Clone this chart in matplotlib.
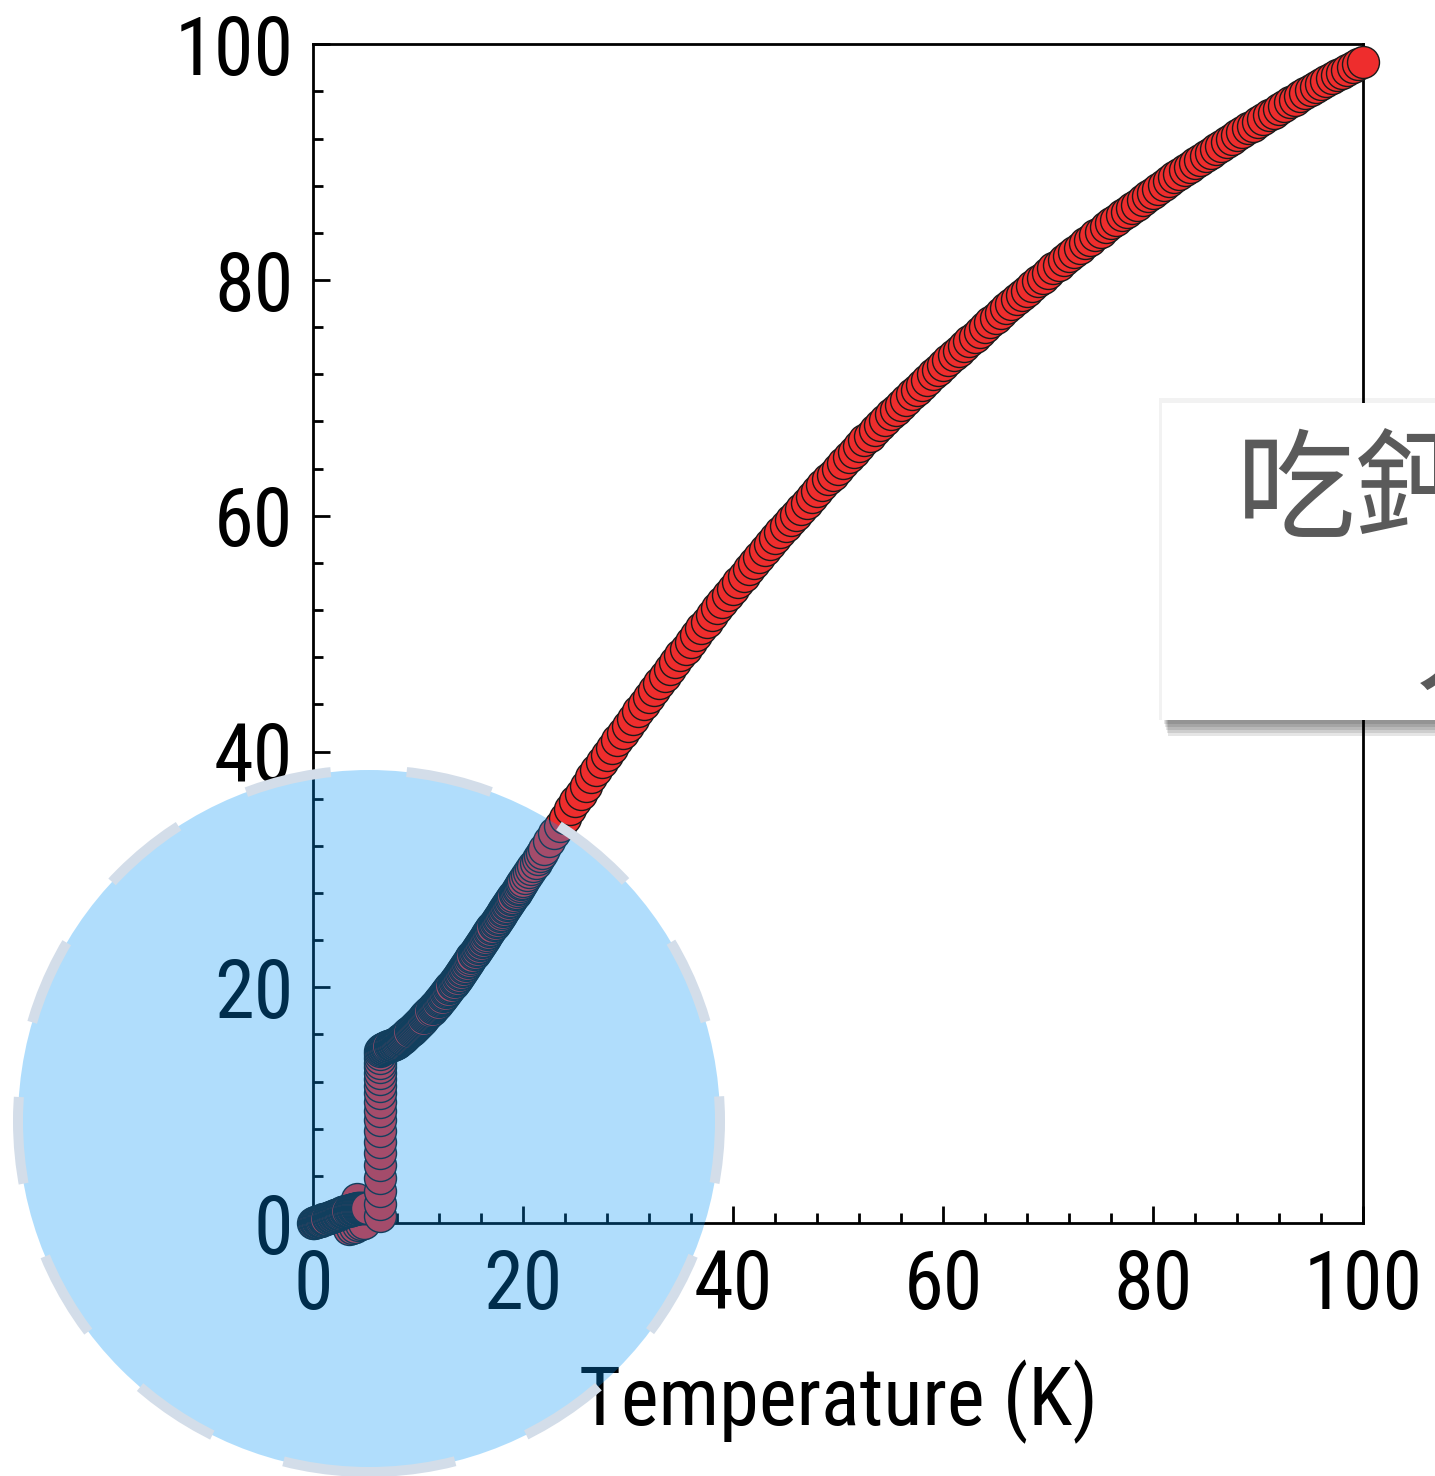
import os
import matplotlib.pyplot as plt
import matplotlib.font_manager as fm
from matplotlib.patches import Ellipse, Rectangle
from matplotlib.ticker import MultipleLocator

# low temperature plateau (superconducting state)
temp_low = [0.0, 0.1, 0.2, 0.3, 0.4, 0.5, 0.6, 0.7, 0.8, 0.9,
            1.0, 1.1, 1.2, 1.3, 1.4, 1.5, 1.6, 1.7, 1.8, 1.9,
            2.0, 2.1, 2.2, 2.3, 2.4, 2.5, 2.6, 2.7, 2.8, 2.9,
            3.0, 3.1, 3.2, 3.3, 3.4, 3.5, 3.6, 3.7, 3.8, 3.9,
            4.0, 4.1, 4.2, 4.3, 4.4, 4.5, 4.6, 4.7, 4.8, 4.9,
            5.0, 5.1, 5.2]
res_low = [0.00, 0.03, 0.05, 0.08, 0.10, 0.13, 0.15, 0.18, 0.20, 0.25,
           0.30, 0.32, 0.35, 0.38, 0.40, 0.45, 0.50, 0.52, 0.55, 0.58,
           0.60, 0.65, 0.70, 0.72, 0.75, 0.78, 0.80, 0.85, 0.90, 0.92,
           0.95, 0.98, 1.00, 1.02, 1.05, 1.08, 1.10, 1.12, 1.15, 1.18,
           1.20, 1.22, 1.25, 1.25, 1.28, 1.30, 1.30, 1.30, 1.30, 1.30,
           1.30, 1.30, 1.30]

temp_dip = [4.2, 3.4, 3.7, 4.0, 4.3, 4.6, 4.9]
res_dip = [2.0, -0.5, -0.4, -0.3, -0.2, -0.1, 0.0]

# transition
temp_jump = [6.4, 6.4, 6.4, 6.4, 6.4, 6.4, 6.4, 6.4, 6.4, 6.4,
             6.4, 6.4, 6.4, 6.4, 6.4, 6.4, 6.4, 6.4, 6.4, 6.4]
res_jump = [0.6, 1.6, 2.7, 3.8, 4.9, 5.9, 6.9, 7.8, 8.7, 9.5,
            10.3, 11.0, 11.6, 12.2, 12.7, 13.2, 13.6, 14.0, 14.3, 14.6]

# normal state, dense part
temp_mid = [6.5, 6.6, 6.7, 6.8, 6.9,
            7.0, 7.1, 7.2, 7.3, 7.4, 7.5, 7.6, 7.7, 7.8, 7.9,
            8.0, 8.1, 8.2, 8.3, 8.4, 8.5, 8.6, 8.7, 8.8, 8.9,
            9.0, 9.1, 9.2, 9.3, 9.4, 9.5, 9.6, 9.7, 9.8, 9.9,
            10.0, 10.1, 10.2, 10.3, 10.4, 10.5, 10.6, 10.7, 10.8, 10.9,
            11.0, 11.1, 11.2, 11.3, 11.4, 11.5, 11.6, 11.7, 11.8, 11.9,
            12.0, 12.1, 12.2, 12.3, 12.4, 12.5, 12.6, 12.7, 12.8, 12.9,
            13.0, 13.1, 13.2, 13.3, 13.4, 13.5, 13.6, 13.7, 13.8, 13.9,
            14.0, 14.1, 14.2, 14.3, 14.4, 14.5, 14.6, 14.7, 14.8, 14.9,
            15.0, 15.1, 15.2, 15.3, 15.4, 15.5, 15.6, 15.7, 15.8, 15.9,
            16.0, 16.1, 16.2, 16.3, 16.4, 16.5, 16.6, 16.7, 16.8, 16.9,
            17.0, 17.1, 17.2, 17.3, 17.4, 17.5, 17.6, 17.7, 17.8, 17.9,
            18.0, 18.1, 18.2, 18.3, 18.4, 18.5, 18.6, 18.7, 18.8, 18.9,
            19.0, 19.1, 19.2, 19.3, 19.4, 19.5, 19.6, 19.7, 19.8, 19.9,
            20.0, 20.2, 20.4, 20.6, 20.8, 21.0, 21.2, 21.4, 21.6, 21.8]
res_mid = [14.70, 14.74, 14.78, 14.82, 14.86,
           14.90, 14.94, 14.98, 15.02, 15.06, 15.10, 15.14, 15.18, 15.22, 15.26,
           15.30, 15.37, 15.44, 15.51, 15.58, 15.65, 15.72, 15.79, 15.86, 15.93,
           16.00, 16.09, 16.18, 16.27, 16.36, 16.45, 16.54, 16.63, 16.72, 16.81,
           16.90, 16.99, 17.08, 17.17, 17.26, 17.35, 17.44, 17.53, 17.62, 17.71,
           17.80, 17.90, 18.00, 18.10, 18.20, 18.30, 18.40, 18.50, 18.60, 18.70,
           18.80, 18.91, 19.02, 19.13, 19.24, 19.35, 19.46, 19.57, 19.68, 19.79,
           19.90, 20.02, 20.14, 20.26, 20.38, 20.50, 20.62, 20.74, 20.86, 20.98,
           21.10, 21.23, 21.36, 21.49, 21.62, 21.75, 21.88, 22.01, 22.14, 22.27,
           22.40, 22.53, 22.66, 22.79, 22.92, 23.05, 23.18, 23.31, 23.44, 23.57,
           23.70, 23.83, 23.96, 24.09, 24.22, 24.35, 24.48, 24.61, 24.74, 24.87,
           25.00, 25.13, 25.26, 25.39, 25.52, 25.65, 25.78, 25.91, 26.04, 26.17,
           26.30, 26.43, 26.56, 26.69, 26.82, 26.95, 27.08, 27.21, 27.34, 27.47,
           27.60, 27.74, 27.88, 28.02, 28.16, 28.30, 28.44, 28.58, 28.72, 28.86,
           29.00, 29.26, 29.52, 29.78, 30.04, 30.30, 30.58, 30.86, 31.14, 31.42]

# normal state, up to 100 K
temp_high = [22.0, 22.5, 23.0, 23.5, 24.0, 24.5, 25.0, 25.5, 26.0, 26.5,
             27.0, 27.5, 28.0, 28.5, 29.0, 29.5, 30.0, 30.5, 31.0, 31.5,
             32.0, 32.5, 33.0, 33.5, 34.0, 34.5, 35.0, 35.5, 36.0, 36.5,
             37.0, 37.5, 38.0, 38.5, 39.0, 39.5, 40.0, 40.5, 41.0, 41.5,
             42.0, 42.5, 43.0, 43.5, 44.0, 44.5, 45.0, 45.5, 46.0, 46.5,
             47.0, 47.5, 48.0, 48.5, 49.0, 49.5, 50.0, 50.5, 51.0, 51.5,
             52.0, 52.5, 53.0, 53.5, 54.0, 54.5, 55.0, 55.5, 56.0, 56.5,
             57.0, 57.5, 58.0, 58.5, 59.0, 59.5, 60.0, 60.5, 61.0, 61.5,
             62.0, 62.5, 63.0, 63.5, 64.0, 64.5, 65.0, 65.5, 66.0, 66.5,
             67.0, 67.5, 68.0, 68.5, 69.0, 69.5, 70.0, 70.5, 71.0, 71.5,
             72.0, 72.5, 73.0, 73.5, 74.0, 74.5, 75.0, 75.5, 76.0, 76.5,
             77.0, 77.5, 78.0, 78.5, 79.0, 79.5, 80.0, 80.5, 81.0, 81.5,
             82.0, 82.5, 83.0, 83.5, 84.0, 84.5, 85.0, 85.5, 86.0, 86.5,
             87.0, 87.5, 88.0, 88.5, 89.0, 89.5, 90.0, 90.5, 91.0, 91.5,
             92.0, 92.5, 93.0, 93.5, 94.0, 94.5, 95.0, 95.5, 96.0, 96.5,
             97.0, 97.5, 98.0, 98.5, 99.0, 99.5, 100.0]
res_high = [31.7, 32.4, 33.1, 33.7, 34.4, 35.1, 35.8, 36.4, 37.1, 37.8,
            38.4, 39.1, 39.7, 40.3, 41.0, 41.6, 42.2, 42.8, 43.4, 44.0,
            44.6, 45.2, 45.8, 46.4, 47.0, 47.6, 48.2, 48.7, 49.3, 49.9,
            50.5, 51.0, 51.6, 52.2, 52.7, 53.3, 53.8, 54.4, 54.9, 55.5,
            56.0, 56.5, 57.1, 57.6, 58.1, 58.6, 59.1, 59.6, 60.1, 60.6,
            61.1, 61.6, 62.1, 62.6, 63.1, 63.5, 64.0, 64.5, 65.0, 65.4,
            65.9, 66.4, 66.8, 67.3, 67.7, 68.1, 68.6, 69.0, 69.4, 69.8,
            70.3, 70.7, 71.1, 71.5, 72.0, 72.4, 72.8, 73.2, 73.6, 74.0,
            74.4, 74.8, 75.2, 75.6, 76.0, 76.4, 76.8, 77.2, 77.6, 78.0,
            78.4, 78.7, 79.1, 79.5, 79.9, 80.2, 80.6, 81.0, 81.3, 81.7,
            82.0, 82.4, 82.7, 83.1, 83.4, 83.8, 84.1, 84.5, 84.8, 85.1,
            85.5, 85.8, 86.1, 86.4, 86.8, 87.1, 87.4, 87.7, 88.1, 88.4,
            88.7, 89.0, 89.3, 89.6, 89.9, 90.2, 90.5, 90.8, 91.1, 91.4,
            91.7, 92.0, 92.3, 92.6, 92.9, 93.1, 93.4, 93.7, 94.0, 94.2,
            94.5, 94.8, 95.1, 95.3, 95.6, 95.9, 96.1, 96.4, 96.6, 96.9,
            97.1, 97.4, 97.6, 97.8, 98.1, 98.3, 98.5]

note_text = "吃鈣片的\n人"


def find_condensed():
    # look for a narrow sans face among the installed fonts
    files = [f.fname for f in fm.fontManager.ttflist]
    prefs = ['liberationsansnarrow-regular', 'robotocondensed-regular',
             'notosans-condensed.', 'opensans_condensed-regular',
             'opensans-condensed', 'dejavusanscondensed.']
    for p in prefs:
        for fn in files:
            if p in os.path.basename(fn).lower():
                return fn
    skip = ['bold', 'italic', 'oblique', 'light', 'thin', 'black',
            'medium', 'semi', 'extra']
    for fn in files:
        b = os.path.basename(fn).lower()
        if ('condensed' in b or 'narrow' in b) and not any(k in b for k in skip):
            return fn
    return None


cond_file = find_condensed()
if cond_file:
    label_font = fm.FontProperties(fname=cond_file, size=58)
else:
    label_font = fm.FontProperties(family='Liberation Sans', size=56)

fig = plt.figure(figsize=(14.35, 14.76), dpi=100)
ax = fig.add_axes([0.218, 0.1714, 0.732, 0.7986])

for t, r in [(temp_dip, res_dip), (temp_low, res_low), (temp_jump, res_jump),
             (temp_mid, res_mid), (temp_high, res_high)]:
    ax.scatter(t, r, s=530, c='#ee2d2d', edgecolors='#1a1a1a',
               linewidths=1.0, clip_on=False, zorder=3)

ax.set_xlim(0, 100)
ax.set_ylim(0, 100)
ax.xaxis.set_major_locator(MultipleLocator(20))
ax.xaxis.set_minor_locator(MultipleLocator(4))
ax.yaxis.set_major_locator(MultipleLocator(20))
ax.yaxis.set_minor_locator(MultipleLocator(4))
ax.tick_params(which='both', direction='in', top=False, right=False, width=2)
ax.tick_params(which='major', length=12)
ax.tick_params(which='minor', length=7)
ax.tick_params(axis='y', pad=14)
ax.tick_params(axis='x', pad=18)
ax.set_xticks([0, 20, 40, 60, 80, 100])
ax.set_yticks([0, 20, 40, 60, 80, 100])
ax.set_xticklabels(['0', '20', '40', '60', '80', '100'], fontproperties=label_font)
ax.set_yticklabels(['0', '20', '40', '60', '80', '100'], fontproperties=label_font)
for sp in ax.spines.values():
    sp.set_linewidth(2)
ax.set_xlabel("Temperature (K)", fontproperties=label_font, labelpad=24)

# highlight circle over the low-T region
W, H = 1435, 1476
circ = Ellipse((369 / W, 1 - 1121 / H), width=702 / W, height=702 / H,
               transform=fig.transFigure, facecolor=(0.0, 0.58, 0.97, 0.31),
               edgecolor='#d3dde9', lw=7.2, linestyle=(0, (8.7, 7.6)), zorder=10)
fig.add_artist(circ)

# note box with soft shadow
bx, by, bh = 1162 / W, 1 - 720 / H, 317 / H
for off in [16, 13, 10, 7, 4]:
    fig.add_artist(Rectangle((bx + off * 0.4 / W, by - off / H), 0.5, bh,
                             transform=fig.transFigure, facecolor='black',
                             alpha=0.1, edgecolor='none', zorder=11))
fig.add_artist(Rectangle((bx - 3 / W, by), 0.5, bh + 5 / H,
                         transform=fig.transFigure, facecolor='black',
                         alpha=0.05, edgecolor='none', zorder=11))
fig.add_artist(Rectangle((bx, by), 0.5, bh, transform=fig.transFigure,
                         facecolor='white', edgecolor='none', zorder=12))
fig.text(1475 / W, 1 - 572 / H, note_text, ha='center', va='center',
         fontsize=86, color='#5a5a5a', linespacing=1.3, fontweight='light',
         family=['Noto Sans CJK TC', 'DejaVu Sans'], zorder=13)

fig.savefig("out.png", dpi=100)
